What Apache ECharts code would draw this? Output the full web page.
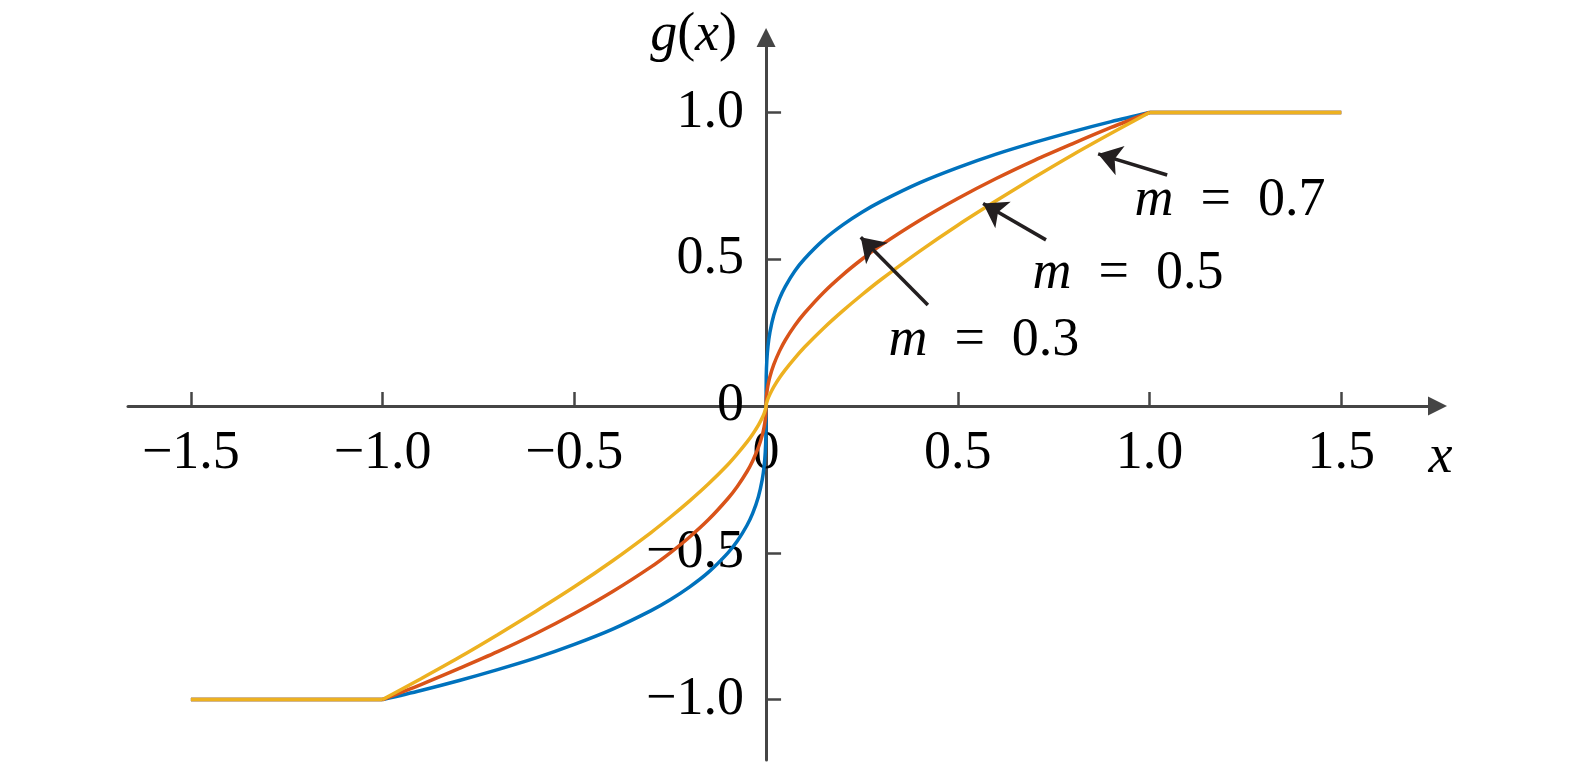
<!DOCTYPE html>
<html>
<head>
<meta charset="utf-8">
<script src="https://cdn.jsdelivr.net/npm/echarts@6/dist/echarts.min.js"></script>
<style>html,body{margin:0;padding:0;background:#fff}#c{width:1575px;height:764px}</style>
</head>
<body>
<div id="c"></div>
<script>
// x samples
const xValues = [-1.5, -1, -0.9, -0.8, -0.7, -0.6, -0.5, -0.4, -0.3, -0.25, -0.2, -0.15, -0.1, -0.075, -0.05, -0.035, -0.02, -0.01, -0.005, -0.002, -0.0005,
  0, 0.0005, 0.002, 0.005, 0.01, 0.02, 0.035, 0.05, 0.075, 0.1, 0.15, 0.2, 0.25, 0.3, 0.4, 0.5, 0.6, 0.7, 0.8, 0.9, 1, 1.5];
// g(x) for m = 0.3
const gM03 = [-1, -1, -0.969, -0.935, -0.898, -0.858, -0.812, -0.760, -0.697, -0.660, -0.617, -0.566, -0.501, -0.460, -0.407, -0.366, -0.309, -0.251, -0.204, -0.155, -0.102,
  0, 0.102, 0.155, 0.204, 0.251, 0.309, 0.366, 0.407, 0.460, 0.501, 0.566, 0.617, 0.660, 0.697, 0.760, 0.812, 0.858, 0.898, 0.935, 0.969, 1, 1];
// g(x) for m = 0.5
const gM05 = [-1, -1, -0.949, -0.894, -0.837, -0.775, -0.707, -0.632, -0.548, -0.500, -0.447, -0.387, -0.316, -0.274, -0.224, -0.187, -0.141, -0.100, -0.071, -0.045, -0.022,
  0, 0.022, 0.045, 0.071, 0.100, 0.141, 0.187, 0.224, 0.274, 0.316, 0.387, 0.447, 0.500, 0.548, 0.632, 0.707, 0.775, 0.837, 0.894, 0.949, 1, 1];
// g(x) for m = 0.7
const gM07 = [-1, -1, -0.929, -0.856, -0.779, -0.699, -0.616, -0.527, -0.431, -0.379, -0.324, -0.265, -0.200, -0.163, -0.123, -0.096, -0.065, -0.040, -0.025, -0.013, -0.005,
  0, 0.005, 0.013, 0.025, 0.040, 0.065, 0.096, 0.123, 0.163, 0.200, 0.265, 0.324, 0.379, 0.431, 0.527, 0.616, 0.699, 0.779, 0.856, 0.929, 1, 1];

const mLabels = ['0.3', '0.5', '0.7'];
const xTickValues = [-1.5, -1, -0.5, 0.5, 1, 1.5];
const xLabelValues = [-1.5, -1, -0.5, 0, 0.5, 1, 1.5];
const yTickValues = [-1, -0.5, 0, 0.5, 1];
const yLabelValues = [-1, -0.5, 0, 0.5, 1];

// annotation arrows (data coordinates) and label anchors
const arrowFrom = [[0.422, 0.344], [0.730, 0.566], [1.046, 0.787]];
const arrowTo   = [[0.247, 0.575], [0.566, 0.690], [0.866, 0.859]];
const labelAt   = [[0.568, 0.222], [0.944, 0.450], [1.210, 0.698]];

// layout
const W = 1575, H = 764;
const GRID = { left: 128, right: 137.5, top: 37.5, bottom: 4 };
const X_MIN = -1.664, X_MAX = 1.751, Y_MIN = -1.206, Y_MAX = 1.2555;
const gridW = W - GRID.left - GRID.right, gridH = H - GRID.top - GRID.bottom;
const yAxisOffset = -(-X_MIN) / (X_MAX - X_MIN) * gridW;          // move y axis to x = 0
const xAxisOffset = -(-Y_MIN) / (Y_MAX - Y_MIN) * gridH;          // move x axis to y = 0

const FONT = 'Liberation Serif';
const FS = 54;
const AXIS_COLOR = '#454545';
const colors = ['#0072BD', '#D95319', '#EDB120'];
const curves = [gM03, gM05, gM07];

function fmt(v) {
  if (Math.abs(v) < 1e-9) return '0';
  return (v < 0 ? '\u2212' : '') + Math.abs(v).toFixed(1);
}

const richText = {
  i: { fontFamily: FONT, fontSize: FS, fontStyle: 'italic', color: '#000' },
  n: { fontFamily: FONT, fontSize: FS, color: '#000' },
  e: { fontFamily: FONT, fontSize: FS, color: '#000', padding: [0, 27, 0, 27] }
};

function buildData(ys) {
  // break at the kinks so the smooth middle part keeps sharp corners at |x| = 1
  const out = [];
  xValues.forEach((x, i) => {
    if (x === 1 || x === -1) { out.push([x, ys[i]]); out.push('-'); out.push([x, ys[i]]); return; }
    out.push([x, ys[i]]);
  });
  return out;
}

const series = curves.map((ys, k) => ({
  type: 'line',
  name: 'm = ' + mLabels[k],
  data: buildData(ys),
  showSymbol: false,
  symbol: 'none',
  smooth: 0.3,
  connectNulls: false,
  lineStyle: { color: colors[k], width: 3.5 },
  itemStyle: { color: colors[k] },
  z: 2 + k,
  markLine: {
    silent: true,
    symbol: ['none', 'arrow'],
    symbolSize: 23,
    label: { show: false },
    lineStyle: { color: '#231f20', width: 3.5, type: 'solid' },
    emphasis: { disabled: true },
    data: [[{ coord: arrowFrom[k] }, { coord: arrowTo[k] }]]
  },
  markPoint: {
    silent: true,
    symbol: 'circle',
    symbolSize: 0,
    itemStyle: { color: 'rgba(0,0,0,0)' },
    label: {
      show: true,
      position: 'inside',
      formatter: '{i|m}{e|=}{n|' + mLabels[k] + '}',
      rich: richText
    },
    data: [{ coord: labelAt[k] }]
  }
}));

const chart = echarts.init(document.getElementById('c'), null, { renderer: 'canvas' });
chart.setOption({
  animation: false,
  backgroundColor: '#fff',
  grid: { left: GRID.left, right: GRID.right, top: GRID.top, bottom: GRID.bottom, containLabel: false, outerBoundsMode: 'none' },
  xAxis: {
    type: 'value',
    min: X_MIN, max: X_MAX,
    position: 'bottom',
    offset: xAxisOffset,
    name: '{i|x}',
    nameLocation: 'end',
    nameGap: 3,
    nameTextStyle: { align: 'center', verticalAlign: 'top', padding: [25, 0, 0, 0], rich: richText },
    axisLine: { show: true, onZero: false, symbol: ['none', 'triangle'], symbolSize: [19, 19],
      lineStyle: { color: AXIS_COLOR, width: 3 } },
    axisTick: { show: true, inside: true, length: 14, customValues: xTickValues,
      lineStyle: { color: AXIS_COLOR, width: 2.5 } },
    axisLabel: { show: true, margin: 21, customValues: xLabelValues, formatter: fmt,
      fontFamily: FONT, fontSize: FS, color: '#000' },
    splitLine: { show: false }
  },
  yAxis: {
    type: 'value',
    min: Y_MIN, max: Y_MAX,
    position: 'left',
    offset: yAxisOffset,
    name: '{i|g}{n|(}{i|x}{n|)}',
    nameLocation: 'end',
    nameGap: 2,
    nameTextStyle: { align: 'right', verticalAlign: 'middle', padding: [0, 29, 0, 0], rich: richText },
    axisLine: { show: true, onZero: false, symbol: ['none', 'triangle'], symbolSize: [19, 19],
      lineStyle: { color: AXIS_COLOR, width: 3 } },
    axisTick: { show: true, inside: true, length: 15, customValues: yTickValues,
      lineStyle: { color: AXIS_COLOR, width: 2.5 } },
    axisLabel: { show: true, margin: 22, customValues: yLabelValues, formatter: fmt,
      fontFamily: FONT, fontSize: FS, color: '#000', padding: [6, 0, 0, 0] },
    splitLine: { show: false }
  },
  series: series
});
</script>
</body>
</html>
